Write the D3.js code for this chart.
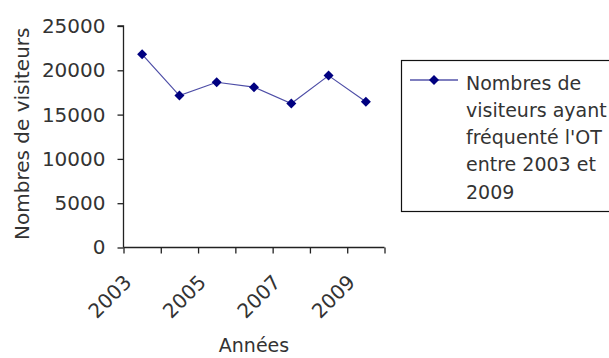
<!DOCTYPE html>
<html>
<head>
<meta charset="utf-8">
<script src="https://cdn.jsdelivr.net/npm/d3@7"></script>
<style>
  html, body { margin: 0; padding: 0; background: #fff; }
  svg { display: block; }
  text { font-family: "DejaVu Sans", Verdana, sans-serif; }
</style>
</head>
<body>
<svg id="chart" width="609" height="358"></svg>
<script>
// Visitors of the tourist office per year
const years = ["2003", "2004", "2005", "2006", "2007", "2008", "2009"];
const visitors = [21800, 17150, 18650, 18100, 16250, 19400, 16450];
const yTicks = [0, 5000, 10000, 15000, 20000, 25000];
const labeledYears = ["2003", "2005", "2007", "2009"];
const legendLines = ["Nombres de", "visiteurs ayant", "fréquenté l'OT", "entre 2003 et", "2009"];

const svg = d3.select("#chart");
const plotLeft = 123.5, plotRight = 384.5, plotTop = 26, plotBottom = 247.5;
const tickFont = 20;
const textFont = 19;
const inkAxis = "#222";
const inkText = "#333";
const navy = "#000080";

const x = d3.scaleBand().domain(years).range([plotLeft, plotRight]).paddingInner(0).paddingOuter(0);
const xEdges = d3.scaleLinear().domain([0, years.length]).range([plotLeft, plotRight]);
const y = d3.scaleLinear().domain([0, 25000]).range([plotBottom, plotTop]);

// Y axis
const yAxis = svg.append("g")
  .attr("transform", `translate(${plotLeft},0)`)
  .call(d3.axisLeft(y).tickValues(yTicks).tickSize(6).tickPadding(12).tickFormat(d3.format("d")));
yAxis.select(".domain").attr("stroke", inkAxis).attr("stroke-width", 1.3).attr("d", `M-6,${plotTop}H0V${plotBottom}`);
yAxis.selectAll(".tick line").attr("stroke", inkAxis).attr("stroke-width", 1.3);
yAxis.selectAll(".tick text")
  .attr("fill", inkText).style("font-size", tickFont + "px")
  .style("font-family", "DejaVu Sans, Verdana, sans-serif");

// X axis: tick marks on category boundaries
const xAxis = svg.append("g")
  .attr("transform", `translate(0,${plotBottom})`)
  .call(d3.axisBottom(xEdges).tickValues(d3.range(years.length + 1)).tickSize(6).tickFormat(""));
xAxis.select(".domain").attr("stroke", inkAxis).attr("stroke-width", 1.3).attr("d", `M${plotLeft},0H${plotRight}`);
xAxis.selectAll(".tick line").attr("stroke", inkAxis).attr("stroke-width", 1.3);

// Rotated year labels
svg.append("g").selectAll("text")
  .data(labeledYears)
  .join("text")
  .attr("transform", d => `translate(${x(d) + x.bandwidth() / 2 - 9.5},${plotBottom + 36}) rotate(-45)`)
  .attr("text-anchor", "end")
  .attr("fill", inkText)
  .style("font-size", tickFont + "px")
  .text(d => d);

// Axis titles
svg.append("text")
  .attr("x", (plotLeft + plotRight) / 2).attr("y", 352)
  .attr("text-anchor", "middle")
  .attr("fill", inkText)
  .style("font-size", textFont + "px")
  .text("Années");

svg.append("text")
  .attr("transform", `translate(28.5,${(plotTop + plotBottom) / 2 - 3}) rotate(-90)`)
  .attr("text-anchor", "middle")
  .attr("fill", inkText)
  .style("font-size", tickFont + "px")
  .text("Nombres de visiteurs");

// Series line and markers
const cx = d => x(d) + x.bandwidth() / 2;
const series = years.map((yr, i) => ({ yr, v: visitors[i] }));

svg.append("path")
  .datum(series)
  .attr("fill", "none")
  .attr("stroke", navy)
  .attr("stroke-opacity", 0.7)
  .attr("stroke-width", 1.2)
  .attr("d", d3.line().x(d => cx(d.yr)).y(d => y(d.v)));

const diamond = d3.symbol(d3.symbolSquare, 50);
svg.append("g").selectAll("path")
  .data(series)
  .join("path")
  .attr("transform", d => `translate(${cx(d.yr)},${y(d.v)}) rotate(45)`)
  .attr("d", diamond)
  .attr("fill", navy);

// Legend
const legend = svg.append("g");
legend.append("rect")
  .attr("x", 401.5).attr("y", 60.5)
  .attr("width", 230).attr("height", 151)
  .attr("fill", "#fff").attr("stroke", "#111").attr("stroke-width", 1.2);
legend.append("line")
  .attr("x1", 410).attr("x2", 458).attr("y1", 80).attr("y2", 80)
  .attr("stroke", navy).attr("stroke-width", 1.2);
legend.append("path")
  .attr("transform", "translate(434,80) rotate(45)")
  .attr("d", diamond)
  .attr("fill", navy);
legend.append("g").selectAll("text")
  .data(legendLines)
  .join("text")
  .attr("x", 466)
  .attr("y", (d, i) => 89.5 + i * 27.3)
  .attr("fill", inkText)
  .style("font-size", textFont + "px")
  .text(d => d);
</script>
</body>
</html>
